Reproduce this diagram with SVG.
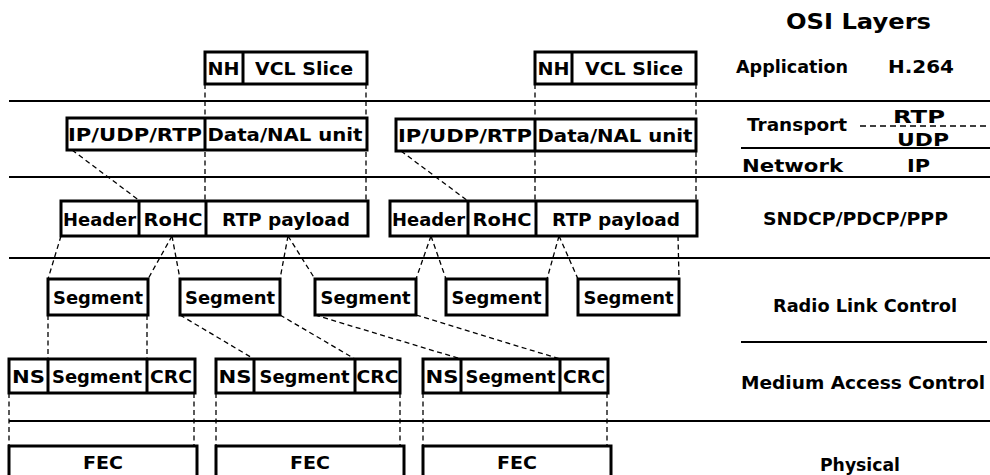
<svg xmlns="http://www.w3.org/2000/svg" width="990" height="475" viewBox="0 0 990 475">
<style>
text{font-family:"DejaVu Sans","Liberation Sans",sans-serif;font-weight:bold;font-size:18px;fill:#000;text-anchor:middle}
.big{font-size:22px}
.box{fill:#fff;stroke:#000;stroke-width:3}
.div{stroke:#000;stroke-width:3}
.rule{stroke:#000;stroke-width:2;fill:none}
.dash{stroke:#000;stroke-width:1.3;stroke-dasharray:5,3.5;fill:none}
.dash2{stroke:#000;stroke-width:1.5;stroke-dasharray:6,4;fill:none}
</style>
<rect width="990" height="475" fill="#fff"/>

<g id="layer-rules">
<line class="rule" x1="9" y1="101" x2="990" y2="101"/>
<line class="rule" x1="741" y1="148" x2="990" y2="148"/>
<line class="rule" x1="9" y1="177" x2="990" y2="177"/>
<line class="rule" x1="9" y1="258" x2="990" y2="258"/>
<line class="rule" x1="741" y1="342" x2="987" y2="342"/>
<line class="rule" x1="9" y1="421" x2="990" y2="421"/>
<line class="dash2" x1="860" y1="126" x2="990" y2="126"/>
</g>

<g id="connectors">
<line class="dash" x1="205" y1="84" x2="205" y2="201"/>
<line class="dash" x1="366" y1="84" x2="366" y2="201"/>
<line class="dash" x1="535" y1="84" x2="535" y2="201"/>
<line class="dash" x1="696" y1="84" x2="696" y2="201"/>
<line class="dash" x1="72" y1="150" x2="140" y2="201"/>
<line class="dash" x1="401" y1="151" x2="468" y2="201"/>
<line class="dash" x1="61" y1="236" x2="48" y2="279"/>
<line class="dash" x1="172" y1="236" x2="148" y2="279"/>
<line class="dash" x1="172" y1="236" x2="180" y2="279"/>
<line class="dash" x1="288" y1="236" x2="280" y2="279"/>
<line class="dash" x1="288" y1="236" x2="315" y2="279"/>
<line class="dash" x1="431" y1="236" x2="416" y2="279"/>
<line class="dash" x1="431" y1="236" x2="446" y2="279"/>
<line class="dash" x1="559" y1="236" x2="547" y2="279"/>
<line class="dash" x1="559" y1="236" x2="578" y2="279"/>
<line class="dash" x1="678" y1="236" x2="679" y2="279"/>
<line class="dash" x1="48" y1="315" x2="48" y2="359"/>
<line class="dash" x1="147" y1="315" x2="147" y2="359"/>
<line class="dash" x1="180" y1="315" x2="254" y2="359"/>
<line class="dash" x1="280" y1="315" x2="355" y2="359"/>
<line class="dash" x1="315" y1="315" x2="461" y2="359"/>
<line class="dash" x1="416" y1="315" x2="560" y2="359"/>
<line class="dash" x1="9" y1="393" x2="9" y2="446"/>
<line class="dash" x1="194" y1="393" x2="194" y2="446"/>
<line class="dash" x1="216" y1="393" x2="216" y2="446"/>
<line class="dash" x1="400" y1="393" x2="400" y2="446"/>
<line class="dash" x1="423" y1="393" x2="423" y2="446"/>
<line class="dash" x1="607" y1="393" x2="607" y2="446"/>
</g>

<g id="nal1">
<rect class="box" x="205" y="52" width="162" height="32"/>
<line class="div" x1="243" y1="52" x2="243" y2="84"/>
<text x="223.5" y="74.5" textLength="32" lengthAdjust="spacingAndGlyphs">NH</text>
<text x="304" y="74.5" textLength="98" lengthAdjust="spacingAndGlyphs">VCL Slice</text>
</g>
<g id="nal2">
<rect class="box" x="535" y="52" width="161" height="32"/>
<line class="div" x1="572" y1="52" x2="572" y2="84"/>
<text x="553.5" y="74.5" textLength="32" lengthAdjust="spacingAndGlyphs">NH</text>
<text x="634" y="74.5" textLength="98" lengthAdjust="spacingAndGlyphs">VCL Slice</text>
</g>

<g id="ip1">
<rect class="box" x="67" y="118" width="300" height="32"/>
<line class="div" x1="205" y1="118" x2="205" y2="150"/>
<text x="135" y="141" textLength="134" lengthAdjust="spacingAndGlyphs">IP/UDP/RTP</text>
<text x="285" y="141" textLength="155" lengthAdjust="spacingAndGlyphs">Data/NAL unit</text>
</g>
<g id="ip2">
<rect class="box" x="396" y="119" width="300" height="32"/>
<line class="div" x1="535" y1="119" x2="535" y2="151"/>
<text x="465" y="142" textLength="134" lengthAdjust="spacingAndGlyphs">IP/UDP/RTP</text>
<text x="615" y="142" textLength="155" lengthAdjust="spacingAndGlyphs">Data/NAL unit</text>
</g>

<g id="pdcp1">
<rect class="box" x="61" y="201" width="307" height="35"/>
<line class="div" x1="139" y1="201" x2="139" y2="236"/>
<line class="div" x1="206" y1="201" x2="206" y2="236"/>
<text x="99.5" y="225.5" textLength="73" lengthAdjust="spacingAndGlyphs">Header</text>
<text x="173" y="225.5" textLength="59" lengthAdjust="spacingAndGlyphs">RoHC</text>
<text x="286" y="225.5" textLength="128" lengthAdjust="spacingAndGlyphs">RTP  payload</text>
</g>
<g id="pdcp2">
<rect class="box" x="390" y="201" width="307" height="35"/>
<line class="div" x1="468" y1="201" x2="468" y2="236"/>
<line class="div" x1="536" y1="201" x2="536" y2="236"/>
<text x="428.5" y="225.5" textLength="73" lengthAdjust="spacingAndGlyphs">Header</text>
<text x="502" y="225.5" textLength="59" lengthAdjust="spacingAndGlyphs">RoHC</text>
<text x="616" y="225.5" textLength="128" lengthAdjust="spacingAndGlyphs">RTP  payload</text>
</g>

<g id="seg1"><rect class="box" x="48" y="279" width="100" height="36"/><text x="98" y="304" textLength="90" lengthAdjust="spacingAndGlyphs">Segment</text></g>
<g id="seg2"><rect class="box" x="180" y="279" width="100" height="36"/><text x="230" y="304" textLength="90" lengthAdjust="spacingAndGlyphs">Segment</text></g>
<g id="seg3"><rect class="box" x="315" y="279" width="101" height="36"/><text x="365.5" y="304" textLength="90" lengthAdjust="spacingAndGlyphs">Segment</text></g>
<g id="seg4"><rect class="box" x="446" y="279" width="101" height="36"/><text x="496.5" y="304" textLength="90" lengthAdjust="spacingAndGlyphs">Segment</text></g>
<g id="seg5"><rect class="box" x="578" y="279" width="101" height="36"/><text x="628.5" y="304" textLength="90" lengthAdjust="spacingAndGlyphs">Segment</text></g>

<g id="mac1">
<rect class="box" x="9" y="359" width="186" height="34"/>
<line class="div" x1="48" y1="359" x2="48" y2="393"/>
<line class="div" x1="147" y1="359" x2="147" y2="393"/>
<text x="28.5" y="383" textLength="33" lengthAdjust="spacingAndGlyphs">NS</text>
<text x="97" y="383" textLength="90" lengthAdjust="spacingAndGlyphs">Segment</text>
<text x="171" y="383" textLength="42" lengthAdjust="spacingAndGlyphs">CRC</text>
</g>
<g id="mac2">
<rect class="box" x="216" y="359" width="184" height="34"/>
<line class="div" x1="254" y1="359" x2="254" y2="393"/>
<line class="div" x1="355" y1="359" x2="355" y2="393"/>
<text x="235" y="383" textLength="33" lengthAdjust="spacingAndGlyphs">NS</text>
<text x="304.5" y="383" textLength="90" lengthAdjust="spacingAndGlyphs">Segment</text>
<text x="377.5" y="383" textLength="42" lengthAdjust="spacingAndGlyphs">CRC</text>
</g>
<g id="mac3">
<rect class="box" x="423" y="359" width="185" height="34"/>
<line class="div" x1="461" y1="359" x2="461" y2="393"/>
<line class="div" x1="560" y1="359" x2="560" y2="393"/>
<text x="442" y="383" textLength="33" lengthAdjust="spacingAndGlyphs">NS</text>
<text x="510.5" y="383" textLength="90" lengthAdjust="spacingAndGlyphs">Segment</text>
<text x="584" y="383" textLength="42" lengthAdjust="spacingAndGlyphs">CRC</text>
</g>

<g id="fec1"><rect class="box" x="9" y="446" width="188" height="40"/><text x="103" y="468.5" textLength="40" lengthAdjust="spacingAndGlyphs">FEC</text></g>
<g id="fec2"><rect class="box" x="216" y="446" width="188" height="40"/><text x="310" y="468.5" textLength="40" lengthAdjust="spacingAndGlyphs">FEC</text></g>
<g id="fec3"><rect class="box" x="423" y="446" width="188" height="40"/><text x="517" y="468.5" textLength="40" lengthAdjust="spacingAndGlyphs">FEC</text></g>

<g id="labels">
<text class="big" x="858.5" y="29" textLength="145" lengthAdjust="spacingAndGlyphs">OSI Layers</text>
<text x="792" y="73" textLength="112" lengthAdjust="spacingAndGlyphs">Application</text>
<text x="921" y="73" textLength="66" lengthAdjust="spacingAndGlyphs">H.264</text>
<text x="797" y="131" textLength="100" lengthAdjust="spacingAndGlyphs">Transport</text>
<text x="919" y="123" textLength="52" lengthAdjust="spacingAndGlyphs">RTP</text>
<text x="923" y="146" textLength="52" lengthAdjust="spacingAndGlyphs">UDP</text>
<text x="792.5" y="171.5" textLength="101" lengthAdjust="spacingAndGlyphs">Network</text>
<text x="918.5" y="171.5" textLength="23" lengthAdjust="spacingAndGlyphs">IP</text>
<text x="855.5" y="225" textLength="185" lengthAdjust="spacingAndGlyphs">SNDCP/PDCP/PPP</text>
<text x="865" y="311.5" textLength="184" lengthAdjust="spacingAndGlyphs">Radio Link Control</text>
<text x="863" y="389" textLength="244" lengthAdjust="spacingAndGlyphs">Medium Access Control</text>
<text x="860" y="471" textLength="80" lengthAdjust="spacingAndGlyphs">Physical</text>
</g>
</svg>
